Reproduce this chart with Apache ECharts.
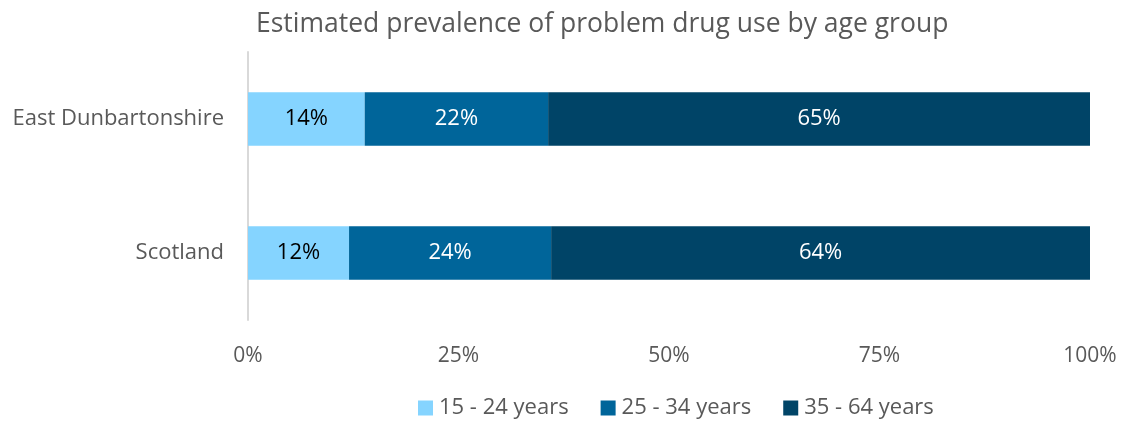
<!DOCTYPE html>
<html>
<head>
<meta charset="utf-8">
<script src="https://cdn.jsdelivr.net/npm/echarts@6/dist/echarts.min.js"></script>
<style>
  html, body { margin: 0; padding: 0; background: #fff; }
  #chart { width: 1130px; height: 425px; }
</style>
</head>
<body>
<div id="chart"></div>
<script>
// Areas, top to bottom
const areas = ['East Dunbartonshire', 'Scotland'];
// Age-group shares (%) for each area
const age15to24 = [14, 12];
const age25to34 = [22, 24];
const age35to64 = [65, 64];
const seriesNames = ['15 - 24 years', '25 - 34 years', '35 - 64 years'];
const xTicks = [0, 25, 50, 75, 100];

const colors = ['#85D4FF', '#00659A', '#004467'];
const labelColors = ['#000000', '#ffffff', '#ffffff'];
const FONT = 'Open Sans';

const groups = [age15to24, age25to34, age35to64];
// Each row is stacked to 100% of its own total
const rowTotals = areas.map((_, i) => groups.reduce((s, g) => s + g[i], 0));

const series = groups.map((vals, k) => ({
  name: seriesNames[k],
  type: 'bar',
  stack: 'share',
  barCategoryGap: '60%',
  itemStyle: { color: colors[k] },
  label: {
    show: true,
    position: 'inside',
    color: labelColors[k],
    fontFamily: FONT,
    fontSize: 22,
    formatter: p => vals[p.dataIndex] + '%'
  },
  data: vals.map((v, i) => v / rowTotals[i] * 100)
}));

const chart = echarts.init(document.getElementById('chart'), null, { renderer: 'canvas' });
chart.setOption({
  animation: false,
  color: colors,
  title: {
    text: 'Estimated prevalence of problem drug use by age group',
    left: 251,
    top: 6,
    textStyle: { fontFamily: FONT, fontSize: 26.5, fontWeight: 'normal', color: '#595959' }
  },
  grid: { left: 248, right: 40, top: 52, bottom: 105, containLabel: false },
  legend: {
    bottom: 1,
    left: 413,
    itemWidth: 15,
    itemHeight: 15,
    itemGap: 32,
    icon: 'rect',
    textStyle: { fontFamily: FONT, fontSize: 22, color: '#595959', padding: [0, 0, 0, 1] },
    data: seriesNames
  },
  xAxis: {
    type: 'value',
    min: 0,
    max: 100,
    interval: 25,
    axisLine: { show: false },
    axisTick: { show: false },
    splitLine: { show: false },
    axisLabel: {
      margin: 26,
      fontFamily: FONT,
      fontSize: 21,
      color: '#595959',
      formatter: v => xTicks.includes(v) ? v + '%' : ''
    }
  },
  yAxis: {
    type: 'category',
    inverse: true,
    data: areas,
    axisLine: { show: true, lineStyle: { color: '#d9d9d9', width: 2 } },
    axisTick: { show: false },
    axisLabel: { margin: 24, fontFamily: FONT, fontSize: 22, color: '#595959' }
  },
  series
});
</script>
</body>
</html>
